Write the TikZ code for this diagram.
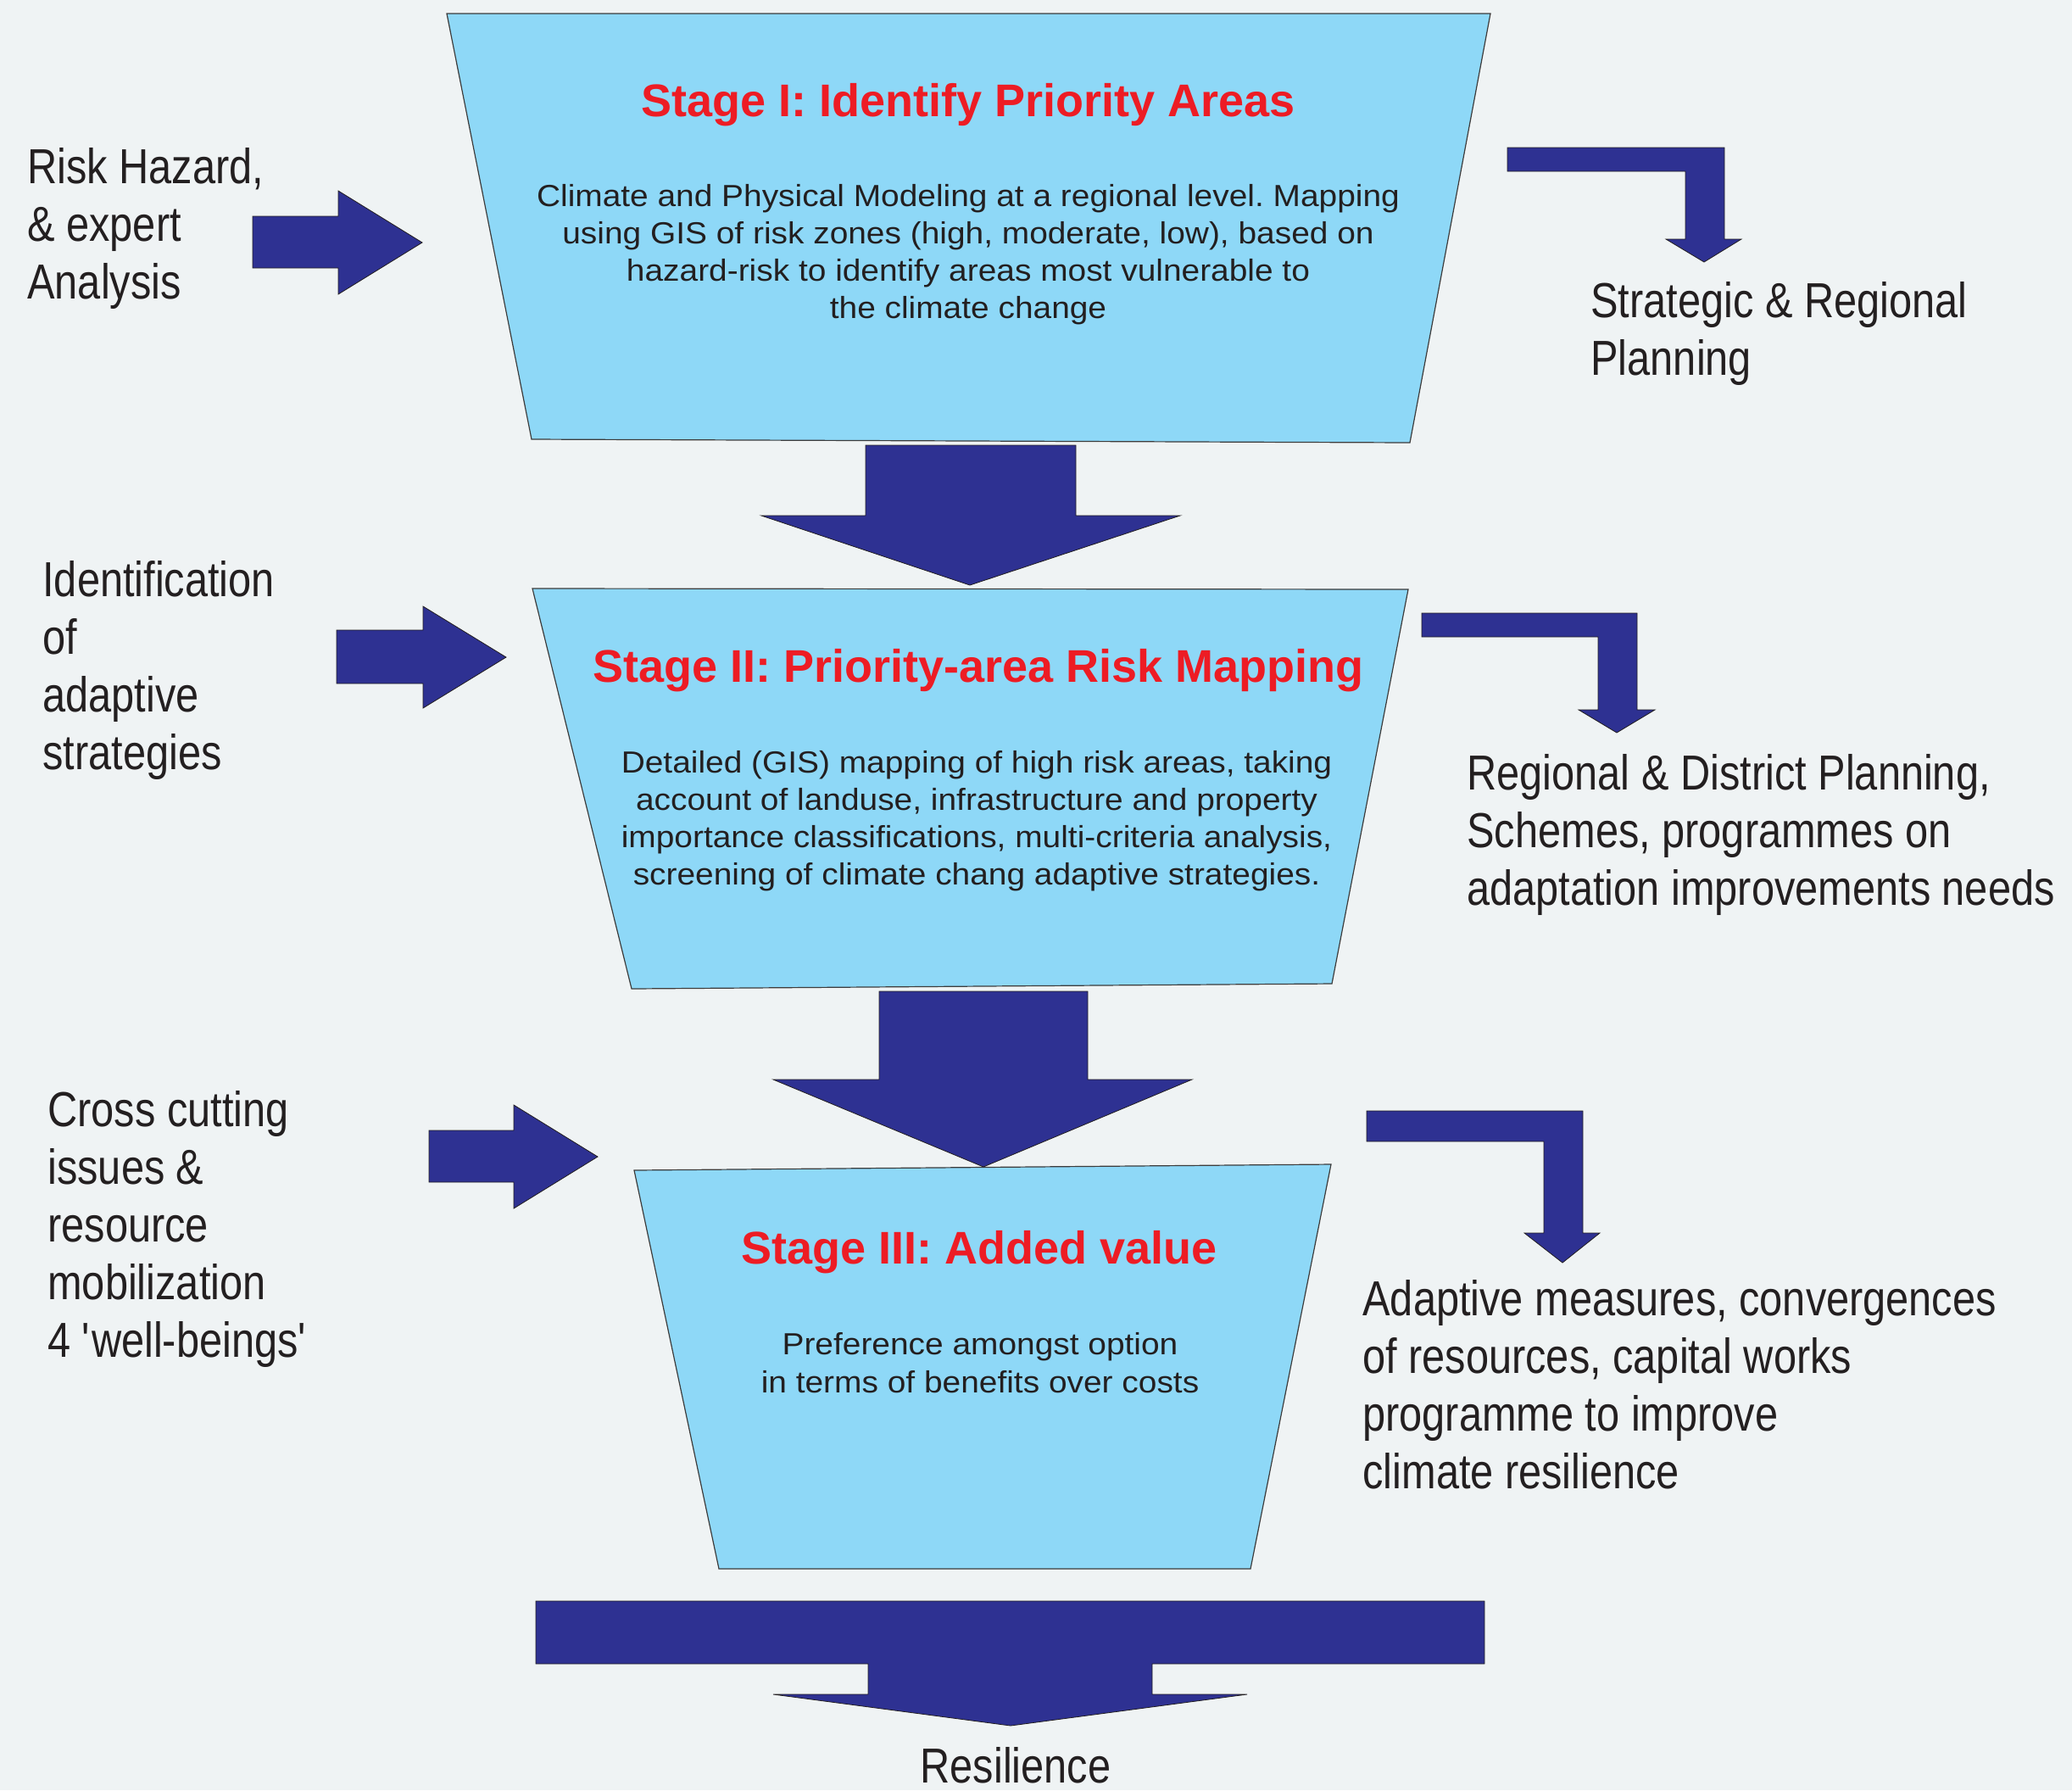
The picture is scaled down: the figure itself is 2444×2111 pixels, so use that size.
\documentclass[tikz,border=0pt]{standalone}
\usepackage{fontspec}
\setmainfont{Liberation Sans}
\newfontfamily\narrowsans[FakeStretch=0.84]{Liberation Sans}
\newfontfamily\bodysans[FakeStretch=1.08]{Liberation Sans}
\frenchspacing
\definecolor{bgcol}{RGB}{239,243,244}
\definecolor{boxblue}{RGB}{142,216,247}
\definecolor{boxline}{RGB}{60,60,60}
\definecolor{arrowblue}{RGB}{46,49,146}
\definecolor{arrowline}{RGB}{35,31,32}
\definecolor{titlered}{RGB}{237,28,36}
\definecolor{textdark}{RGB}{35,31,32}
\begin{document}
\begin{tikzpicture}[x=0.5pt,y=0.5pt,yscale=-1,xscale=1,
  stagebox/.style={draw=boxline,fill=boxblue,line width=0.6pt},
  blockarrow/.style={draw=arrowline,fill=arrowblue,line width=0.4pt},
  sidelabel/.style={anchor=base west,inner sep=0pt,align=left,text=textdark,font=\narrowsans\fontsize{29}{34}\selectfont},
  stagetitle/.style={anchor=base,inner sep=0pt,text=titlered,font=\bfseries\fontsize{27}{31}\selectfont},
  stagetext/.style={anchor=base,inner sep=0pt,align=center,text=textdark,font=\bodysans\fontsize{18}{21.85}\selectfont}]
%set diagram left start at 0, and has height of 2111
\useasboundingbox (0,0) rectangle (2444,2111);
\fill [bgcol] (0,0) rectangle (2444,2111);

%Shape: Trapezoid [stage I]
\draw [stagebox] (527,16) -- (1758,16) -- (1663,522) -- (627,518) -- cycle ;
%Shape: Trapezoid [stage II]
\draw [stagebox] (628,694) -- (1661,695) -- (1571,1160) -- (745,1166) -- cycle ;
%Shape: Trapezoid [stage III]
\draw [stagebox] (748,1380) -- (1570,1373) -- (1475,1850) -- (848,1850) -- cycle ;

%Shape: Down Arrow [stage I to II]
\draw [blockarrow] (1021,525) -- (1269,525) -- (1269,608) -- (1392,608) -- (1144,690) -- (898,608) -- (1021,608) -- cycle ;
%Shape: Down Arrow [stage II to III]
\draw [blockarrow] (1037,1169) -- (1283,1169) -- (1283,1273) -- (1406,1273) -- (1160,1376) -- (912,1273) -- (1037,1273) -- cycle ;
%Shape: T Arrow [to resilience]
\draw [blockarrow] (632,1888) -- (1751,1888) -- (1751,1962) -- (1359,1962) -- (1359,1998) -- (1471,1998) -- (1192,2035) -- (912,1998) -- (1024,1998) -- (1024,1962) -- (632,1962) -- cycle ;

%Shape: Right Arrow [inputs]
\draw [blockarrow] (298,255) -- (399,255) -- (399,225) -- (498,286) -- (399,347) -- (399,316) -- (298,316) -- cycle ;
\draw [blockarrow] (397,743) -- (499,743) -- (499,715) -- (597,775) -- (499,835) -- (499,806) -- (397,806) -- cycle ;
\draw [blockarrow] (506,1333) -- (606,1333) -- (606,1303) -- (705,1364) -- (606,1425) -- (606,1394) -- (506,1394) -- cycle ;

%Shape: Bent Arrow [outputs]
\draw [blockarrow] (1778,174) -- (2034,174) -- (2034,282) -- (2054,282) -- (2010,309) -- (1965,282) -- (1988,282) -- (1988,202) -- (1778,202) -- cycle ;
\draw [blockarrow] (1677,723) -- (1931,723) -- (1931,837) -- (1952,837) -- (1907,864) -- (1862,837) -- (1885,837) -- (1885,751) -- (1677,751) -- cycle ;
\draw [blockarrow] (1612,1310) -- (1867,1310) -- (1867,1454) -- (1887,1454) -- (1843,1489) -- (1798,1454) -- (1821,1454) -- (1821,1346) -- (1612,1346) -- cycle ;

% Text Node (multi-line nodes sit on their last baseline)
\draw (1142,137) node (titleA) [stagetitle] {Stage I: Identify Priority Areas};
% Text Node
\draw (1142,375) node (textA) [stagetext] {Climate and Physical Modeling at a regional level. Mapping\\using GIS of risk zones (high, moderate, low), based on\\hazard-risk to identify areas most vulnerable to\\the climate change};
% Text Node
\draw (1154,804) node (titleB) [stagetitle] {Stage II: Priority-area Risk Mapping};
% Text Node
\draw (1152,1043) node (textB) [stagetext] {Detailed (GIS) mapping of high risk areas, taking\\account of landuse, infrastructure and property\\importance classifications, multi-criteria analysis,\\screening of climate chang adaptive strategies.};
% Text Node
\draw (1155,1490) node (titleC) [stagetitle] {Stage III: Added value};
% Text Node
\draw (1156,1642) node (textC) [stagetext,font=\bodysans\fontsize{18}{22.5}\selectfont] {Preference amongst option\\in terms of benefits over costs};

% Text Node
\draw (32,352) node (hazard) [sidelabel] {Risk Hazard,\\\& expert\\Analysis};
% Text Node
\draw (50,907) node (strategies) [sidelabel] {Identification\\of\\adaptive\\strategies};
% Text Node
\draw (56,1600) node (crosscut) [sidelabel] {Cross cutting\\issues \&\\resource\\mobilization\\4 \textquotesingle well-beings\textquotesingle};
% Text Node
\draw (1876,442) node (strategic) [sidelabel] {Strategic \& Regional\\Planning};
% Text Node
\draw (1730,1067) node (district) [sidelabel] {Regional \& District Planning,\\Schemes, programmes on\\adaptation improvements needs};
% Text Node
\draw (1607,1755) node (measures) [sidelabel] {Adaptive measures, convergences\\of resources, capital works\\programme to improve\\climate resilience};
% Text Node
\draw (1198,2102) node (resilience) [sidelabel,anchor=base] {Resilience};

\end{tikzpicture}
\end{document}
